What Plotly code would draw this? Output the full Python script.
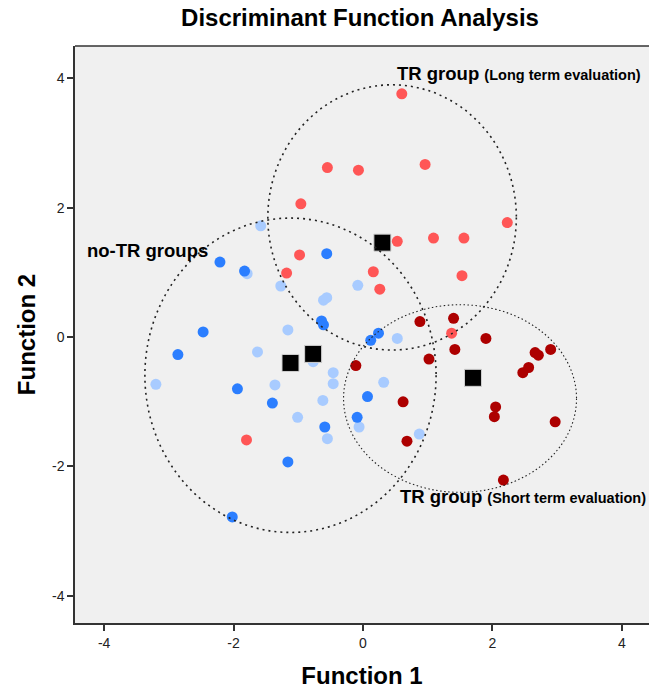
import plotly.graph_objects as go

# ---- data ----
long_x = [0.60, -0.55, -0.07, 0.96, -0.96, 2.23, 0.53, 1.09, 1.56, 1.53, -0.98, -1.18, 0.16, 0.26, 1.37, -1.80]
long_y = [3.76, 2.62, 2.58, 2.67, 2.06, 1.77, 1.48, 1.53, 1.53, 0.95, 1.27, 0.99, 1.01, 0.74, 0.06, -1.59]

short_x = [0.88, 1.40, 1.90, 1.42, 1.02, -0.11, 2.66, 2.71, 2.90, 2.56, 2.47, 0.62, 2.05, 2.03, 2.97, 0.68, 2.17]
short_y = [0.24, 0.29, -0.02, -0.19, -0.34, -0.44, -0.24, -0.28, -0.19, -0.47, -0.55, -1.00, -1.08, -1.23, -1.31, -1.61, -2.21]

noTR1_x = [-2.21, -1.83, -0.56, -0.64, -0.61, -2.47, -2.86, -1.94, -1.40, -0.59, 0.07, -0.09, 0.12, 0.24, -1.16, -2.02]
noTR1_y = [1.16, 1.02, 1.29, 0.25, 0.19, 0.08, -0.27, -0.80, -1.02, -1.39, -0.92, -1.24, -0.05, 0.06, -1.93, -2.78]

noTR2_x = [-1.58, -1.79, -1.27, -0.08, -0.61, -0.56, -1.16, -1.63, -0.77, -0.46, -0.46, -3.20, -1.36, -0.62, -1.01, -0.55, -0.06, 0.53, 0.32, 0.87]
noTR2_y = [1.72, 0.98, 0.79, 0.80, 0.57, 0.61, 0.11, -0.23, -0.38, -0.55, -0.72, -0.73, -0.74, -0.98, -1.24, -1.57, -1.39, -0.02, -0.70, -1.50]

centroid_x = [0.30, 1.70, -1.12, -0.77]
centroid_y = [1.46, -0.63, -0.40, -0.26]

# ellipses: center x, center y, radius x, radius y
ell_cx = [0.45, -1.12, 1.50]
ell_cy = [1.85, -0.59, -0.95]
ell_rx = [1.92, 2.25, 1.80]
ell_ry = [2.05, 2.43, 1.45]
ell_w = [1.6, 1.6, 1.1]
ell_dash = ["2px,4px", "2px,4px", "1.5px,2.5px"]

xticks = [-4, -2, 0, 2, 4]
yticks = [-4, -2, 0, 2, 4]
xtick_labels = ["-4", "-2", "0", "2", "4"]
ytick_labels = ["-4", "-2", "0", "2", "4"]

FONT = "Liberation Sans, Arial, sans-serif"

fig = go.Figure()

def pts(x, y, color):
    fig.add_trace(go.Scatter(x=x, y=y, mode="markers",
                             marker=dict(size=11, color=color, line=dict(width=0)),
                             showlegend=False, hoverinfo="x+y"))

pts(noTR2_x, noTR2_y, "#A8CBFF")
pts(noTR1_x, noTR1_y, "#2B7EFF")
pts(long_x, long_y, "#FF5656")
pts(short_x, short_y, "#AD0000")

fig.add_trace(go.Scatter(x=centroid_x, y=centroid_y, mode="markers",
                         marker=dict(symbol="square", size=17, color="black",
                                     line=dict(width=1, color="#D0D0D0")),
                         showlegend=False))

for cx, cy, rx, ry, w, d in zip(ell_cx, ell_cy, ell_rx, ell_ry, ell_w, ell_dash):
    fig.add_shape(type="circle", xref="x", yref="y",
                  x0=cx - rx, x1=cx + rx, y0=cy - ry, y1=cy + ry,
                  line=dict(color="#222222", width=w, dash=d), layer="above")

# top frame line
fig.add_shape(type="line", xref="paper", yref="paper", x0=0, x1=1, y0=1, y1=1,
              line=dict(color="#333333", width=1.5))

fig.add_annotation(x=0.49, y=4.08, xref="x", yref="y", xanchor="left", yanchor="middle",
                   text="<b>TR group</b> <b><span style='font-size:14.5px'>(Long term evaluation)</span></b>",
                   showarrow=False, font=dict(size=18.5, color="black", family=FONT))
fig.add_annotation(x=0.54, y=-2.46, xref="x", yref="y", xanchor="left", yanchor="middle",
                   text="<b>TR group</b> <b><span style='font-size:14.5px'>(Short term evaluation)</span></b>",
                   showarrow=False, font=dict(size=18.5, color="black", family=FONT))
fig.add_annotation(x=-4.30, y=1.34, xref="x", yref="y", xanchor="left", yanchor="middle",
                   text="<b>no-TR groups</b>",
                   showarrow=False, font=dict(size=18.5, color="black", family=FONT))

fig.update_layout(
    width=649, height=689,
    margin=dict(l=75, r=0, t=46, b=66),
    paper_bgcolor="white", plot_bgcolor="#F0F0F0",
    font=dict(family=FONT, color="#222222"),
    title=dict(text="<b>Discriminant Function Analysis</b>", x=360 / 649, xanchor="center",
               y=1 - 18 / 689, yanchor="middle", font=dict(size=24, color="black", family=FONT)),
    xaxis=dict(range=[-4.45, 4.42], tickvals=xticks, ticktext=xtick_labels, ticks="outside",
               ticklen=6, tickwidth=1.5,
               tickcolor="#333333", showline=True, linecolor="#333333", linewidth=1.5,
               showgrid=False, zeroline=False, tickfont=dict(size=14, color="#222222"),
               title=dict(text="<b>Function 1</b>", font=dict(size=24, color="black"), standoff=20)),
    yaxis=dict(range=[-4.42, 4.5], tickvals=yticks, ticktext=ytick_labels, ticks="outside",
               ticklen=6, tickwidth=1.5,
               tickcolor="#333333", showline=True, linecolor="#333333", linewidth=1.5,
               showgrid=False, zeroline=False, tickfont=dict(size=14, color="#222222"),
               title=dict(text="<b>Function 2</b>", font=dict(size=24, color="black"), standoff=10)),
)

fig.write_html("out.html")
